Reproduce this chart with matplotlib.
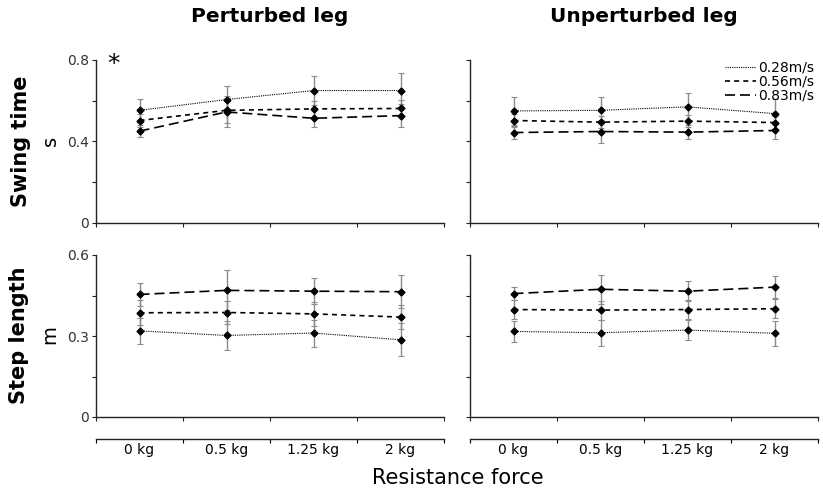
import matplotlib.pyplot as plt
import numpy as np
from matplotlib.ticker import FixedLocator, NullFormatter

# Category labels and speeds
forces = ["0 kg", "0.5 kg", "1.25 kg", "2 kg"]
speeds = ["0.28m/s", "0.56m/s", "0.83m/s"]
legs = ["Perturbed leg", "Unperturbed leg"]

# Swing time (s): mean and SD per speed, perturbed / unperturbed leg
swing_pert = [
    [0.553, 0.606, 0.650, 0.650],
    [0.503, 0.553, 0.560, 0.562],
    [0.451, 0.545, 0.514, 0.527],
]
swing_pert_sd = [
    [0.058, 0.065, 0.073, 0.085],
    [0.030, 0.060, 0.040, 0.040],
    [0.030, 0.076, 0.044, 0.057],
]
swing_unpert = [
    [0.550, 0.553, 0.570, 0.537],
    [0.503, 0.495, 0.500, 0.493],
    [0.444, 0.449, 0.446, 0.454],
]
swing_unpert_sd = [
    [0.067, 0.064, 0.068, 0.074],
    [0.030, 0.030, 0.030, 0.030],
    [0.031, 0.057, 0.033, 0.043],
]

# Step length (m)
step_pert = [
    [0.319, 0.302, 0.311, 0.286],
    [0.386, 0.387, 0.382, 0.370],
    [0.454, 0.469, 0.466, 0.464],
]
step_pert_sd = [
    [0.049, 0.052, 0.050, 0.061],
    [0.047, 0.041, 0.044, 0.044],
    [0.043, 0.074, 0.047, 0.062],
]
step_unpert = [
    [0.317, 0.312, 0.322, 0.310],
    [0.398, 0.396, 0.398, 0.401],
    [0.457, 0.473, 0.466, 0.481],
]
step_unpert_sd = [
    [0.040, 0.048, 0.036, 0.046],
    [0.035, 0.035, 0.035, 0.035],
    [0.025, 0.053, 0.037, 0.041],
]

styles = [
    dict(linestyle=(0, (1, 1)), linewidth=0.8),
    dict(linestyle=(0, (3, 2.5)), linewidth=1.2),
    dict(linestyle=(0, (6, 3)), linewidth=1.2),
]

W, H = 823, 491
fig = plt.figure(figsize=(W / 100, H / 100), dpi=100)


def px_axes(x0, y_top, x1, y_bot):
    return fig.add_axes([x0 / W, 1 - y_bot / H, (x1 - x0) / W, (y_bot - y_top) / H])


def style_axes(ax, ymax, show_labels):
    for s in ["top", "right"]:
        ax.spines[s].set_visible(False)
    for s in ["left", "bottom"]:
        ax.spines[s].set_linewidth(1.0)
        ax.spines[s].set_color("#222222")
    ax.set_xlim(0, 4)
    ax.set_ylim(0, ymax)
    ax.set_xticks([0, 1, 2, 3, 4])
    ax.set_xticklabels([])
    ax.set_yticks([0, ymax / 2, ymax])
    ax.yaxis.set_minor_locator(FixedLocator([ymax / 4, 3 * ymax / 4]))
    ax.yaxis.set_minor_formatter(NullFormatter())
    ax.tick_params(axis="both", which="both", direction="out", length=3,
                   width=0.8, color="#222222", labelsize=10, labelcolor="#333333", pad=2)
    if show_labels:
        ax.set_yticklabels(["0", f"{ymax / 2:g}", f"{ymax:g}"])
    else:
        ax.set_yticklabels([])


def draw(ax, means, sds):
    x = np.arange(len(forces)) + 0.5
    for i, spd in enumerate(speeds):
        ax.errorbar(x, means[i], yerr=sds[i], fmt="none", ecolor="#8c8c8c",
                    elinewidth=1.0, capsize=2, capthick=0.8, zorder=2)
        ax.plot(x, means[i], color="black", marker="D", markersize=3.5,
                label=spd, zorder=3, **styles[i])


lefts = [(96, 444), (470, 818)]
top_row = [(swing_pert, swing_pert_sd), (swing_unpert, swing_unpert_sd)]
bot_row = [(step_pert, step_pert_sd), (step_unpert, step_unpert_sd)]

for j, (x0, x1) in enumerate(lefts):
    ax = px_axes(x0, 60, x1, 223)
    style_axes(ax, 0.8, j == 0)
    draw(ax, *top_row[j])
    if j == 1:
        leg = ax.legend(loc="upper right", bbox_to_anchor=(1.01, 1.04), frameon=False,
                        fontsize=10, handlelength=2.2, handletextpad=0.2,
                        labelspacing=0.0, borderpad=0, markerscale=0)
        for h in leg.get_lines():
            h.set_marker("")
    else:
        ax.text(0.2, 0.78, "*", fontsize=18, ha="center", va="center")

    ax = px_axes(x0, 255, x1, 417)
    style_axes(ax, 0.6, j == 0)
    draw(ax, *bot_row[j])

    # separate category axis carrying the force labels
    cax = px_axes(x0, 438, x1, 439)
    for s in ["top", "right", "left"]:
        cax.spines[s].set_visible(False)
    cax.spines["bottom"].set_linewidth(1.0)
    cax.spines["bottom"].set_color("#222222")
    cax.set_xlim(0, 4)
    cax.set_yticks([])
    cax.set_xticks([0, 1, 2, 3, 4])
    cax.set_xticklabels([])
    cax.set_xticks(np.arange(len(forces)) + 0.5, minor=True)
    cax.set_xticklabels(forces, minor=True)
    cax.tick_params(axis="x", which="major", direction="out", length=3, width=0.8)
    cax.tick_params(axis="x", which="minor", length=0, labelsize=10, pad=3)

    fig.text((x0 + x1) / 2 / W, 1 - 17 / H, legs[j], ha="center", va="center",
             fontsize=14.5, fontweight="bold")

fig.text(21 / W, 1 - 141 / H, "Swing time", rotation=90, ha="center", va="center",
         fontsize=15, fontweight="bold")
fig.text(50 / W, 1 - 141 / H, "s", rotation=90, ha="center", va="center", fontsize=14)
fig.text(19 / W, 1 - 335 / H, "Step length", rotation=90, ha="center", va="center",
         fontsize=15, fontweight="bold")
fig.text(50 / W, 1 - 335 / H, "m", rotation=90, ha="center", va="center", fontsize=14)
fig.text(458 / W, 1 - 478 / H, "Resistance force", ha="center", va="center", fontsize=15)

fig.savefig("out.png", dpi=100)
